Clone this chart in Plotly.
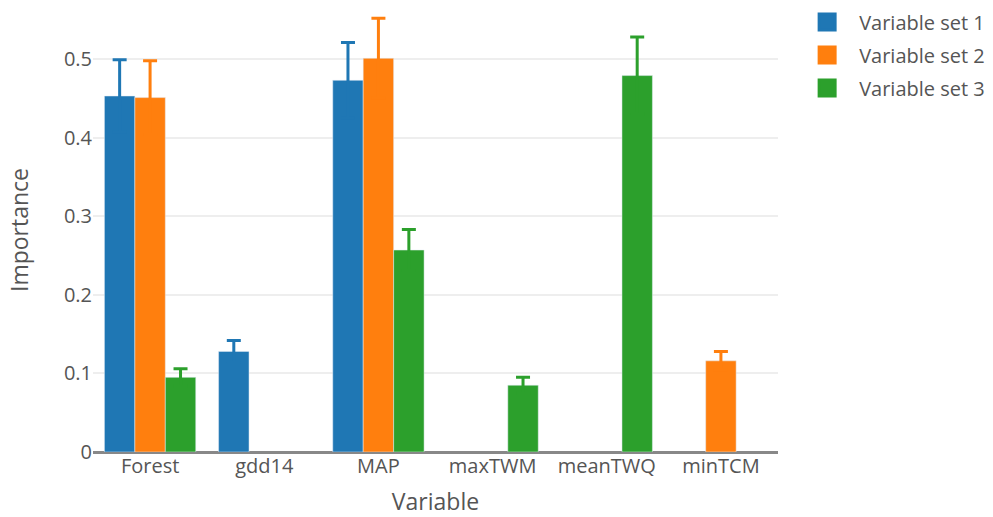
import plotly.graph_objects as go

categories = ["Forest", "gdd14", "MAP", "maxTWM", "meanTWQ", "minTCM"]

set1_values = [0.453, 0.128, 0.473, None, None, None]
set1_errors = [0.046, 0.014, 0.048, None, None, None]

set2_values = [0.451, None, 0.501, None, None, 0.116]
set2_errors = [0.047, None, 0.051, None, None, 0.012]

set3_values = [0.095, None, 0.257, 0.085, 0.479, None]
set3_errors = [0.011, None, 0.026, 0.010, 0.049, None]

y_ticks = [0, 0.1, 0.2, 0.3, 0.4, 0.5]
y_tick_labels = ["0", "0.1", "0.2", "0.3", "0.4", "0.5"]

series_names = ["Variable set 1", "Variable set 2", "Variable set 3"]
colors = ["#1f77b4", "#ff7f0e", "#2ca02c"]

fig = go.Figure()
for name, vals, errs, col in zip(series_names,
                                 [set1_values, set2_values, set3_values],
                                 [set1_errors, set2_errors, set3_errors],
                                 colors):
    fig.add_trace(go.Bar(
        x=categories, y=vals, name=name, legendgroup=name, showlegend=False,
        marker=dict(color=col),
        error_y=dict(type="data", array=errs, visible=True,
                     color=col, thickness=3, width=7),
    ))
    # legend entry with a larger square swatch (no data drawn)
    fig.add_trace(go.Scatter(
        x=[None], y=[None], mode="markers", name=name, legendgroup=name,
        marker=dict(symbol="square", size=16, color=col,
                    line=dict(color=col, width=3)),
        hoverinfo="skip",
    ))

fig.update_layout(
    barmode="group",
    bargap=0.2,
    width=993, height=517,
    margin=dict(l=93, r=215, t=8, b=65, autoexpand=False),
    paper_bgcolor="white", plot_bgcolor="white",
    font=dict(family="Open Sans", size=20, color="#555"),
    legend=dict(x=1.025, y=1.0125, xanchor="left", yanchor="top",
                font=dict(size=20, color="#555"), tracegroupgap=4,
                itemwidth=54),
    xaxis=dict(title=dict(text="Variable", font=dict(size=23, color="#555"),
                          standoff=22),
               showgrid=False, ticks="", showline=False,
               tickfont=dict(size=20, color="#555"), automargin=False),
    yaxis=dict(title=dict(text="Importance", font=dict(size=23, color="#555"),
                          standoff=28),
               range=[0, 0.565], tickvals=y_ticks, ticktext=y_tick_labels,
               showgrid=True, gridcolor="#eee", gridwidth=2,
               zeroline=True, zerolinecolor="#888", zerolinewidth=2.5,
               ticks="", tickfont=dict(size=20, color="#555"),
               automargin=False),
)

fig.write_html("out.html", config={"displayModeBar": False},
               post_script="document.body.style.margin='0';")
